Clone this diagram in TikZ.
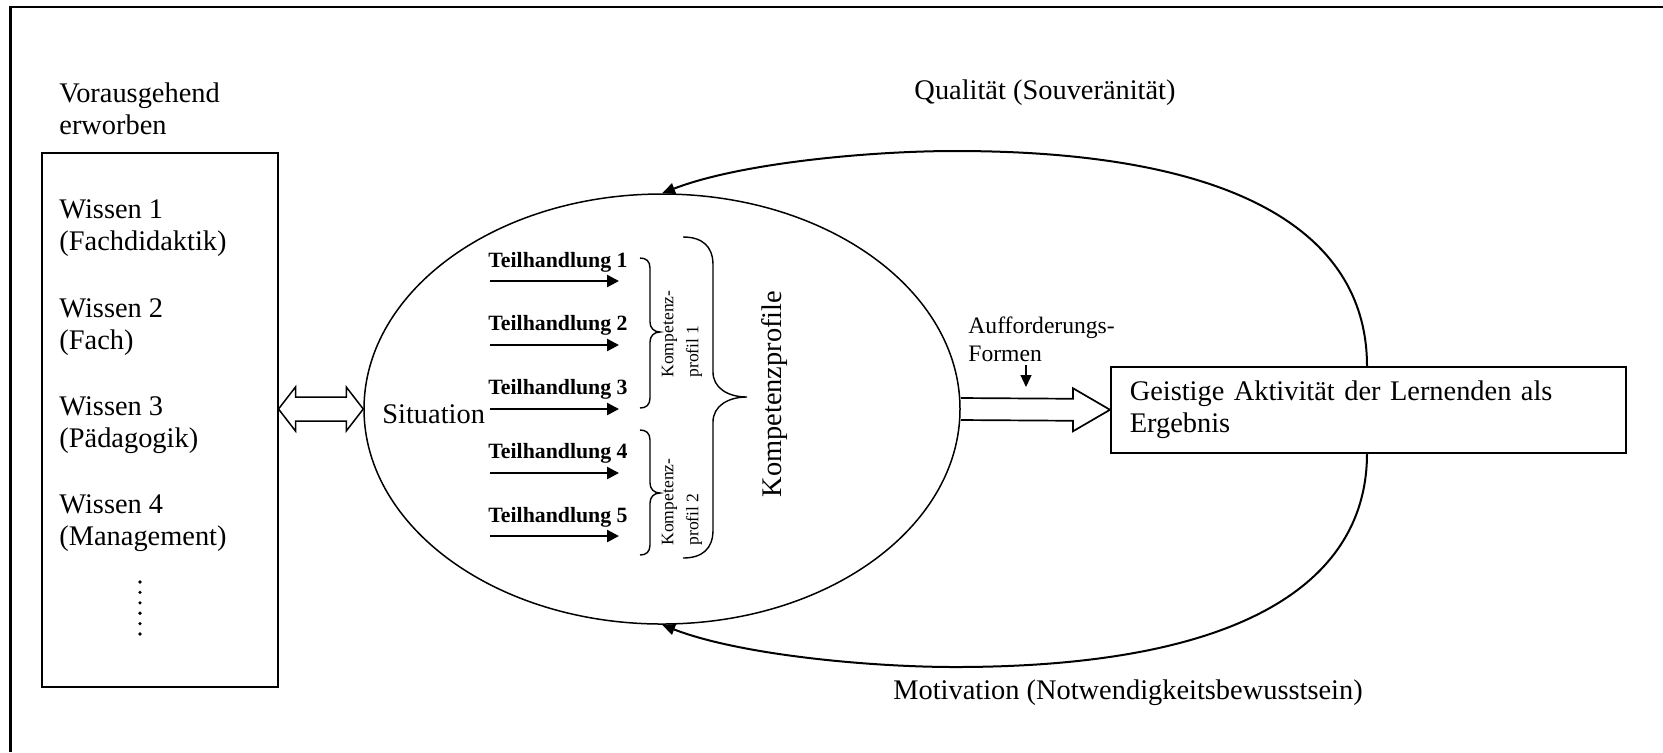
\documentclass[tikz,border=0pt]{standalone}
\usepackage{fontspec}
\setmainfont{Liberation Serif}
\usetikzlibrary{arrows.meta,shapes.geometric,calc}

\begin{document}
\begin{tikzpicture}[x=0.5pt,y=-0.5pt,
  txt/.style={inner sep=0pt, font=\fontsize{14.2}{16}\selectfont},
  thtxt/.style={inner sep=0pt, font=\fontsize{10.9}{13}\selectfont\bfseries},
  smalltxt/.style={inner sep=0pt, font=\fontsize{8.8}{12.5}\selectfont},
  auftxt/.style={inner sep=0pt, font=\fontsize{11.8}{14}\selectfont},
  boxline/.style={draw, line width=0.75pt},
  tharrow/.style={line width=1.2pt, -{Triangle[length=6pt,width=6pt]}},
  loop/.style={line width=1pt, -{Triangle[length=6.5pt,width=5.5pt]}},
  bracket/.style={line width=0.7pt},
  hollow/.style={line width=0.85pt, line join=miter}
]
\useasboundingbox (0,0) rectangle (1663,752);

% page frame: top and left rules
\draw[line width=1pt] (9,7) -- (1663,7);
\draw[line width=1.5pt] (10,6.5) -- (10,752);

% left column: previously acquired knowledge
\node[txt, anchor=west, align=left] (vor) at (59,109) {Vorausgehend\\erworben};
\node[boxline, anchor=north west, minimum width=118pt, minimum height=267pt, inner sep=0pt] (wbox) at (41,152) {};
\node[txt, anchor=west, align=left] (w1) at (59,228) {Wissen 1\\(Fachdidaktik)};
\node[txt, anchor=west, align=left] (w2) at (59,327) {Wissen 2\\(Fach)};
\node[txt, anchor=west, align=left] (w3) at (59,425) {Wissen 3\\(Pädagogik)};
\node[txt, anchor=west, align=left] (w4) at (59,523) {Wissen 4\\(Management)};
\foreach \k in {0,...,5}
  \fill (140,{582+10.4*\k}) circle[radius=0.9pt];

% central ellipse: situation and partial actions
\node[draw, ellipse, line width=0.75pt, minimum width=298pt, minimum height=215pt, inner sep=0pt] (ell) at (662,409) {};
\node[txt, anchor=west] (sit) at (382,414) {Situation};

\foreach \k/\ty/\ay in {1/262/281, 2/325/345, 3/389/409, 4/453/473, 5/517/536} {
  \node[thtxt, anchor=west] (th\k) at (488,\ty) {Teilhandlung \k};
  \coordinate (ts\k) at (490,\ay);
  \coordinate (te\k) at (619,\ay);
  \draw[tharrow] (ts\k) -- (te\k);
}

% braces grouping the partial actions
\draw[bracket] (640,258) .. controls (646,258) and (650,261) .. (650,268)
  -- (650,322) .. controls (650,328) and (654,332) .. (660,332)
  .. controls (654,332) and (650,336) .. (650,342)
  -- (650,398) .. controls (650,405) and (646,408) .. (640,408);
\draw[bracket] (640,430) .. controls (646,430) and (650,433) .. (650,440)
  -- (650,483) .. controls (650,489) and (654,493) .. (660,493)
  .. controls (654,493) and (650,497) .. (650,503)
  -- (650,545) .. controls (650,552) and (646,555) .. (640,555);
\draw[bracket] (683,237) .. controls (702,237) and (713,246) .. (713,265)
  -- (713,372) .. controls (713,388) and (728,397) .. (747,397)
  .. controls (728,397) and (713,406) .. (713,422)
  -- (713,530) .. controls (713,549) and (702,558) .. (683,558);

\node[smalltxt, rotate=90, align=left] (kp1) at (682,334) {Kompetenz-\\profil 1};
\node[smalltxt, rotate=90, align=left] (kp2) at (682,502) {Kompetenz-\\profil 2};
\node[txt, rotate=90] (kp) at (775,394) {Kompetenzprofile};

% double arrow between knowledge box and ellipse
\coordinate (dl) at (wbox.east |- ell.west);
\coordinate (dr) at (ell.west);
\draw[hollow, line width=0.75pt] (dl) -- ($(dl)+(17,-22)$) -- ($(dl)+(17,-12)$) -- ($(dr)+(-17,-12)$)
  -- ($(dr)+(-17,-22)$) -- (dr) -- ($(dr)+(-17,22)$) -- ($(dr)+(-17,12)$)
  -- ($(dl)+(17,12)$) -- ($(dl)+(17,22)$) -- cycle;

% result box
\node[boxline, anchor=north west, minimum width=257.5pt, minimum height=43pt,
      inner xsep=9.5pt, inner ysep=0pt, text width=238.5pt, align=left, txt] (geist) at (1110,366)
  {Geistige Aktivität der Lernenden als\\Ergebnis};

% hollow arrow from ellipse to result box
\coordinate (hs) at (ell.east);
\coordinate (ht) at (geist.west);
\draw[hollow] ($(hs)+(0,-11)$) -- ($(ht)+(-37,-11)$) -- ($(ht)+(-37,-21.5)$) -- (ht)
  -- ($(ht)+(-37,21.5)$) -- ($(ht)+(-37,11)$) -- ($(hs)+(0,11)$);

\node[auftxt, anchor=west, align=left] (auf) at (968,339) {Aufforderungs-\\Formen};
\coordinate (da) at (1026,365);
\coordinate (db) at (1026,387);
\draw[line width=0.6pt, -{Triangle[length=6pt,width=5.5pt]}] (da) -- (db);

% feedback loops
\coordinate (qs) at ($(geist.north west)+(257,0)$);
\coordinate (ms) at ($(geist.south west)+(257,0)$);
\draw[loop] (qs) .. controls (1367,240) and (1250,151) .. (955,151)
  .. controls (870,151) and (740,163) .. (ell.north);
\draw[loop] (ms) .. controls (1367,578) and (1250,667) .. (955,667)
  .. controls (870,667) and (740,655) .. (ell.south);

\node[txt] (qual) at (1045,93) {Qualität (Souveränität)};
\node[txt] (mot) at (1128,693) {Motivation (Notwendigkeitsbewusstsein)};
\end{tikzpicture}
\end{document}
